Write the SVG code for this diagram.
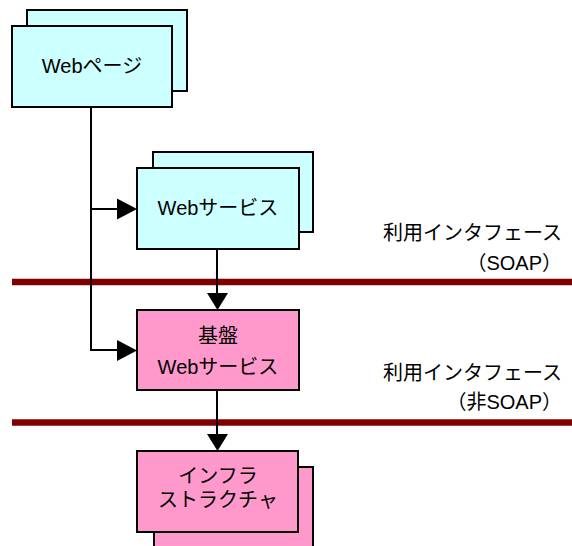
<svg xmlns="http://www.w3.org/2000/svg" width="572" height="546" viewBox="0 0 572 546">
<defs>
<style>
.c{fill:#CCFFFF;stroke:#000;stroke-width:2}
.p{fill:#FF99CC;stroke:#000;stroke-width:2}
.t{font-family:"Liberation Sans","Noto Sans CJK JP",sans-serif;font-size:20px;fill:#000}
.m{text-anchor:middle}
.e{text-anchor:end}
.ln{fill:none;stroke:#000;stroke-width:2}
.bar{stroke:#800000;stroke-width:6.5}
</style>
<marker id="ah" markerWidth="11" markerHeight="11" refX="10" refY="5.5" orient="auto" markerUnits="userSpaceOnUse" viewBox="0 0 10 11"><path d="M0,0 L10,5.5 L0,11 Z" fill="#000"/></marker>
</defs>
<rect width="572" height="546" fill="#fff"/>
<g id="webpage">
<rect class="c" x="27" y="10" width="160" height="81"/>
<rect class="c" x="12" y="26" width="160" height="81"/>
<text class="t m" x="92" y="73">Webページ</text>
</g>
<g id="webservice">
<rect class="c" x="153" y="152" width="160" height="80"/>
<rect class="c" x="137" y="168" width="162" height="81"/>
<text class="t m" x="218" y="215">Webサービス</text>
</g>
<g id="base">
<rect class="p" x="137" y="310" width="162" height="80"/>
<text class="t m" x="218" y="343">基盤</text>
<text class="t m" x="218" y="374">Webサービス</text>
</g>
<g id="infra">
<rect class="p" x="154" y="467" width="159" height="90"/>
<rect class="p" x="137" y="451" width="161" height="81"/>
<text class="t m" x="218" y="483">インフラ</text>
<text class="t m" x="218" y="507">ストラクチャ</text>
</g>
<g id="bars">
<line class="bar" x1="12" y1="282" x2="572" y2="282"/>
<line class="bar" x1="12" y1="422.5" x2="572" y2="422.5"/>
</g>
<g id="labels">
<text class="t e" x="562" y="240">利用インタフェース</text>
<text class="t e" x="562" y="270">（SOAP）</text>
<text class="t e" x="562" y="380">利用インタフェース</text>
<text class="t e" x="562" y="409">（非SOAP）</text>
</g>
<g id="connectors">
<path class="ln" d="M91,107 V350 H117"/>
<path class="ln" d="M91,209 H117"/>
<path d="M117,198.5 L137,209 L117,219.5 Z" fill="#000"/>
<path d="M117,340 L137,350.5 L117,361 Z" fill="#000"/>
<path class="ln" d="M217,249 V294"/>
<path d="M207,293 L217.5,310 L228,293 Z" fill="#000"/>
<path class="ln" d="M217,390 V434"/>
<path d="M207,434 L217.5,451 L228,434 Z" fill="#000"/>
</g>
</svg>
